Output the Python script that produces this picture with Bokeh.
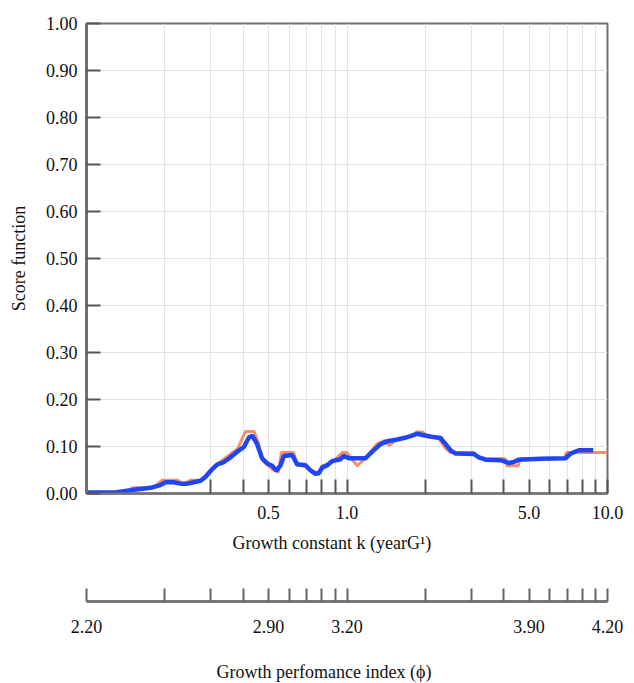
import math
from bokeh.plotting import figure
from bokeh.models import FixedTicker, LinearAxis, Range1d, Title, Label
from bokeh.layouts import column
from bokeh.embed import file_html
from bokeh.resources import INLINE

# ---------------- data ----------------
k_blue = [0.100, 0.129, 0.152, 0.176, 0.192, 0.201, 0.216, 0.230, 0.244, 0.258,
          0.274, 0.286, 0.304, 0.318, 0.337, 0.357, 0.379, 0.402, 0.420, 0.433,
          0.452, 0.472, 0.494, 0.516, 0.536, 0.556, 0.572, 0.616, 0.644, 0.693,
          0.725, 0.757, 0.779, 0.803, 0.840, 0.878, 0.944, 0.972, 1.016, 1.178,
          1.250, 1.345, 1.427, 1.559, 1.653, 1.753, 1.859, 1.971, 2.154, 2.285,
          2.390, 2.497, 2.610, 3.069, 3.209, 3.403, 3.884, 4.180, 4.368, 4.568,
          5.534, 6.903, 7.214, 7.763, 8.815]
score_blue = [0.002, 0.002, 0.008, 0.012, 0.018, 0.024, 0.024, 0.021, 0.021, 0.024,
              0.027, 0.035, 0.052, 0.062, 0.067, 0.077, 0.089, 0.099, 0.119, 0.123,
              0.105, 0.075, 0.064, 0.059, 0.049, 0.060, 0.080, 0.082, 0.062, 0.060,
              0.049, 0.042, 0.043, 0.055, 0.060, 0.069, 0.073, 0.080, 0.075, 0.075,
              0.089, 0.105, 0.111, 0.115, 0.118, 0.122, 0.127, 0.124, 0.120, 0.118,
              0.105, 0.092, 0.085, 0.084, 0.077, 0.072, 0.071, 0.065, 0.067, 0.072,
              0.074, 0.075, 0.085, 0.092, 0.092]

k_orange = [0.100, 0.140, 0.150, 0.180, 0.195, 0.225, 0.235, 0.250, 0.275, 0.300,
            0.340, 0.380, 0.408, 0.440, 0.455, 0.475, 0.520, 0.545, 0.560, 0.625,
            0.640, 0.700, 0.735, 0.780, 0.800, 0.860, 0.900, 0.960, 1.000, 1.094,
            1.178, 1.300, 1.400, 1.450, 1.550, 1.750, 1.850, 1.950, 2.050, 2.250,
            2.400, 2.500, 3.069, 3.209, 3.500, 4.050, 4.100, 4.550, 4.600, 6.850,
            6.950, 10.0]
score_orange = [0.000, 0.000, 0.012, 0.012, 0.028, 0.028, 0.020, 0.028, 0.028, 0.050,
                0.075, 0.095, 0.132, 0.132, 0.110, 0.070, 0.050, 0.045, 0.087, 0.087,
                0.060, 0.058, 0.045, 0.045, 0.058, 0.065, 0.072, 0.087, 0.087, 0.059,
                0.075, 0.105, 0.113, 0.102, 0.115, 0.122, 0.131, 0.131, 0.120, 0.117,
                0.095, 0.087, 0.087, 0.075, 0.074, 0.074, 0.059, 0.059, 0.074, 0.074,
                0.087, 0.087]

k_grid = [0.2, 0.3, 0.4, 0.5, 0.6, 0.7, 0.8, 0.9, 1, 2, 3, 4, 5, 6, 7, 8, 9]
k_ticks = [0.3, 0.4, 0.5, 0.6, 0.7, 0.8, 0.9, 1, 2, 3, 4, 5, 6, 7, 8, 9, 10]
k_label_values = [0.5, 1, 5, 10]
k_label_texts = ["0.5", "1.0", "5.0", "10.0"]

y_ticks = [0, 0.1, 0.2, 0.3, 0.4, 0.5, 0.6, 0.7, 0.8, 0.9, 1]
y_tick_labels = ["0.00", "0.10", "0.20", "0.30", "0.40", "0.50",
                 "0.60", "0.70", "0.80", "0.90", "1.00"]

phi_k_ticks = [0.1, 0.2, 0.3, 0.4, 0.5, 0.6, 0.7, 0.8, 0.9, 1,
               2, 3, 4, 5, 6, 7, 8, 9, 10]
phi_label_k = [0.1, 0.5, 1, 5, 10]
phi_label_texts = ["2.20", "2.90", "3.20", "3.90", "4.20"]
phi_offset = 3.2  # phi = log10(k) + 3.2

FONT = "Liberation Serif"
FRAME = "#707070"
TICK = "#555555"
GRID = "#e4e4e4"
W = 634
H1 = 570
H2 = 75
H3 = 683 - H1 - H2

# ---------------- main figure ----------------
p = figure(width=W, height=H1, x_axis_type="log", x_range=(0.1, 10), y_range=(0, 1),
           output_backend="svg", toolbar_location=None, title=None,
           min_border_left=86, min_border_right=27, min_border_top=23,
           min_border_bottom=H1 - 23 - 470)
p.background_fill_color = "white"
p.border_fill_color = "white"
p.outline_line_color = FRAME
p.outline_line_width = 2

p.line(k_orange, score_orange, line_color="#f58f68", line_width=3)
p.line(k_blue, score_blue, line_color="#1f45f5", line_width=4.5)

xa = p.xaxis[0]
xa.ticker = FixedTicker(ticks=k_ticks)
xa.major_label_overrides = {t: "" for t in k_ticks}
xa.major_label_overrides.update(dict(zip(k_label_values, k_label_texts)))
xa.major_tick_in = 14
xa.major_tick_out = 0
xa.minor_tick_in = 0
xa.minor_tick_out = 0
xa.major_tick_line_color = TICK
xa.major_tick_line_width = 2
xa.axis_line_color = FRAME
xa.axis_line_width = 2.5
xa.major_label_text_font = FONT
xa.major_label_text_font_size = "18px"
xa.major_label_text_color = "#111111"
xa.major_label_standoff = 12

ya = p.yaxis[0]
ya.ticker = FixedTicker(ticks=y_ticks)
ya.major_label_overrides = dict(zip(y_ticks, y_tick_labels))
ya.major_tick_in = 14
ya.major_tick_out = 0
ya.minor_tick_in = 0
ya.minor_tick_out = 0
ya.major_tick_line_color = TICK
ya.major_tick_line_width = 2
ya.axis_line_color = FRAME
ya.axis_line_width = 3
ya.major_label_text_font = FONT
ya.major_label_text_font_size = "18px"
ya.major_label_text_color = "#111111"
ya.major_label_standoff = 9
ya.axis_label = "Score function"
ya.axis_label_text_font = FONT
ya.axis_label_text_font_size = "18px"
ya.axis_label_text_font_style = "normal"
ya.axis_label_text_color = "#111111"
ya.axis_label_standoff = 14

p.xgrid.ticker = FixedTicker(ticks=k_grid)
p.xgrid.grid_line_color = GRID
p.xgrid.grid_line_width = 1
p.ygrid.grid_line_color = GRID
p.ygrid.grid_line_width = 1

p.add_layout(Title(text="Growth constant k (yearG\u00b9)", align="left", offset=146,
                   text_font=FONT, text_font_size="18px", text_font_style="normal",
                   text_color="#111111", standoff=18), "below")

# ---------------- phi axis figure ----------------
phi_ticks = [phi_offset + math.log10(k) for k in phi_k_ticks]
phi_start = phi_offset + math.log10(0.1)
phi_end = phi_offset + math.log10(10)

p2 = figure(width=W, height=H2, x_range=Range1d(phi_start, phi_end), y_range=Range1d(0, 1),
            x_axis_type=None, y_axis_type=None,
            output_backend="svg", toolbar_location=None, title=None,
            min_border_left=86, min_border_right=27, min_border_top=15, min_border_bottom=44)
p2.outline_line_color = None
p2.background_fill_color = "white"
p2.border_fill_color = "white"

phi_overrides = {t: "" for t in phi_ticks}
for kk, txt in zip(phi_label_k, phi_label_texts):
    phi_overrides[phi_offset + math.log10(kk)] = txt

pa = LinearAxis(ticker=FixedTicker(ticks=phi_ticks), major_label_overrides=phi_overrides)
pa.major_tick_in = 13
pa.major_tick_out = 0
pa.minor_tick_in = 0
pa.minor_tick_out = 0
pa.major_tick_line_color = "#666666"
pa.major_tick_line_width = 2
pa.axis_line_color = "#777777"
pa.axis_line_width = 3
pa.major_label_text_font = FONT
pa.major_label_text_font_size = "18px"
pa.major_label_text_color = "#111111"
pa.major_label_standoff = 18
p2.add_layout(pa, "below")

# ---------------- phi axis title strip ----------------
p3 = figure(width=W, height=H3, x_range=Range1d(0, 1), y_range=Range1d(0, 1),
            x_axis_type=None, y_axis_type=None,
            output_backend="svg", toolbar_location=None, title=None,
            min_border_left=86, min_border_right=27, min_border_top=0, min_border_bottom=0)
p3.outline_line_color = None
p3.background_fill_color = "white"
p3.border_fill_color = "white"
p3.add_layout(Label(text="Growth perfomance index (\u03d5)", x=130, y=12,
                    x_units="screen", y_units="screen",
                    text_align="left", text_baseline="middle",
                    text_font=FONT, text_font_size="18px", text_color="#111111"))

layout = column(p, p2, p3)
open("out.html", "w").write(file_html(layout, INLINE))
